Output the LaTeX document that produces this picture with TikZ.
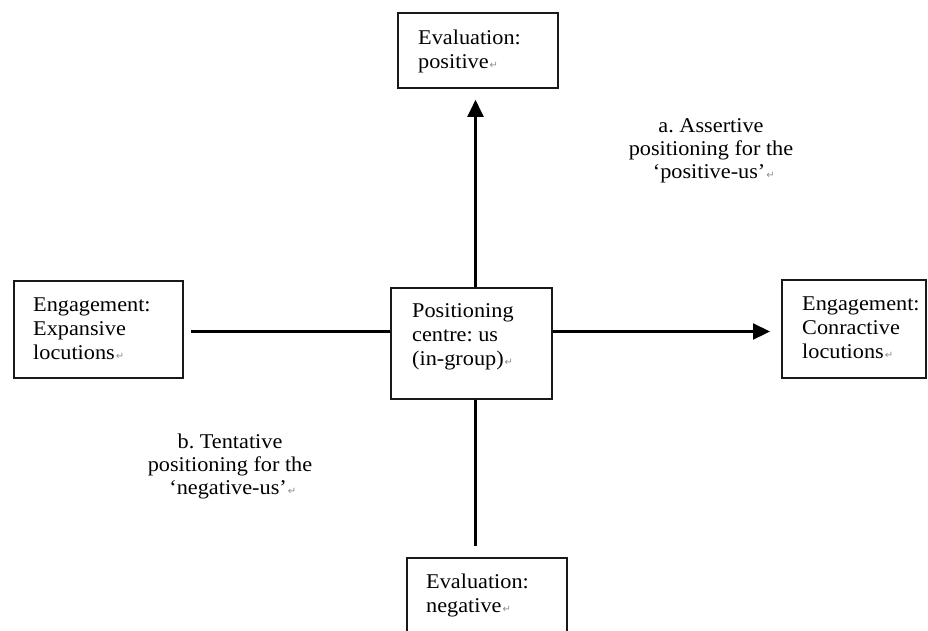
\documentclass[tikz,border=0pt]{standalone}
\usepackage{fontspec}
\setmainfont[FakeStretch=1.06]{Liberation Serif}
\newfontfamily\markfont{DejaVu Sans}
\usetikzlibrary{arrows.meta}
\frenchspacing
% small grey paragraph mark that ends each text block
\newcommand{\pmark}{\kern1pt{\markfont\fontsize{10}{10}\selectfont\color{black!45}↵}}

\begin{document}
\begin{tikzpicture}[x=1pt,y=-1pt,
  frame/.style={draw=black!90, line width=1.8pt, inner sep=0pt, anchor=north west},
  txt/.style={inner sep=0pt, anchor=north west, align=left,
              font=\fontsize{21}{24}\selectfont},
  note/.style={inner sep=0pt, anchor=north, align=center,
               font=\fontsize{21}{23}\selectfont},
  link/.style={line width=2.2pt, draw=black},
  tip/.style={-{Triangle[length=17pt,width=16pt]}}]
\useasboundingbox (0,0) rectangle (928,630);

% frames
\node[frame, minimum width=160pt, minimum height=75pt]  (evpos)  at (397,12)  {};
\node[frame, minimum width=169pt, minimum height=97pt]  (expand) at (13,280)  {};
\node[frame, minimum width=161pt, minimum height=111pt] (centre) at (390,287) {};
\node[frame, minimum width=144pt, minimum height=98pt]  (contr)  at (781,279) {};
\node[frame, minimum width=160pt, minimum height=100pt] (evneg)  at (406,557) {};

% texts inside the frames
\node[txt] (tevpos)  at (418,29.7)  {Evaluation:\\positive\pmark};
\node[txt] (texpand) at (33,297.7)  {Engagement:\\Expansive\\locutions\pmark};
\node[txt] (tcentre) at (412,303.7) {Positioning\\centre: us\\(in-group)\pmark};
\node[txt] (tcontr)  at (802,296.7) {Engagement:\\Conractive\\locutions\pmark};
\node[txt] (tevneg)  at (426,573.7) {Evaluation:\\negative\pmark};

% free-standing notes
\node[note] (nota) at (711,118) {a. Assertive\\positioning for the\\\ ‘positive-us’\pmark};
\node[note] (notb) at (230,434) {b. Tentative\\positioning for the\\\ ‘negative-us’\pmark};

% axis positions
\coordinate (vx) at (475.5,0);
\coordinate (hy) at (0,331.5);

% connectors
\draw[link, tip, shorten >=11pt] (centre.north -| vx) -- (evpos.south -| vx);
\draw[link, shorten >=11pt] (centre.south -| vx) -- (evneg.north -| vx);
\draw[link, shorten <=7pt] (expand.east |- hy) -- (centre.west |- hy);
\draw[link, tip, shorten >=11pt] (centre.east |- hy) -- (contr.west |- hy);
\end{tikzpicture}
\end{document}
